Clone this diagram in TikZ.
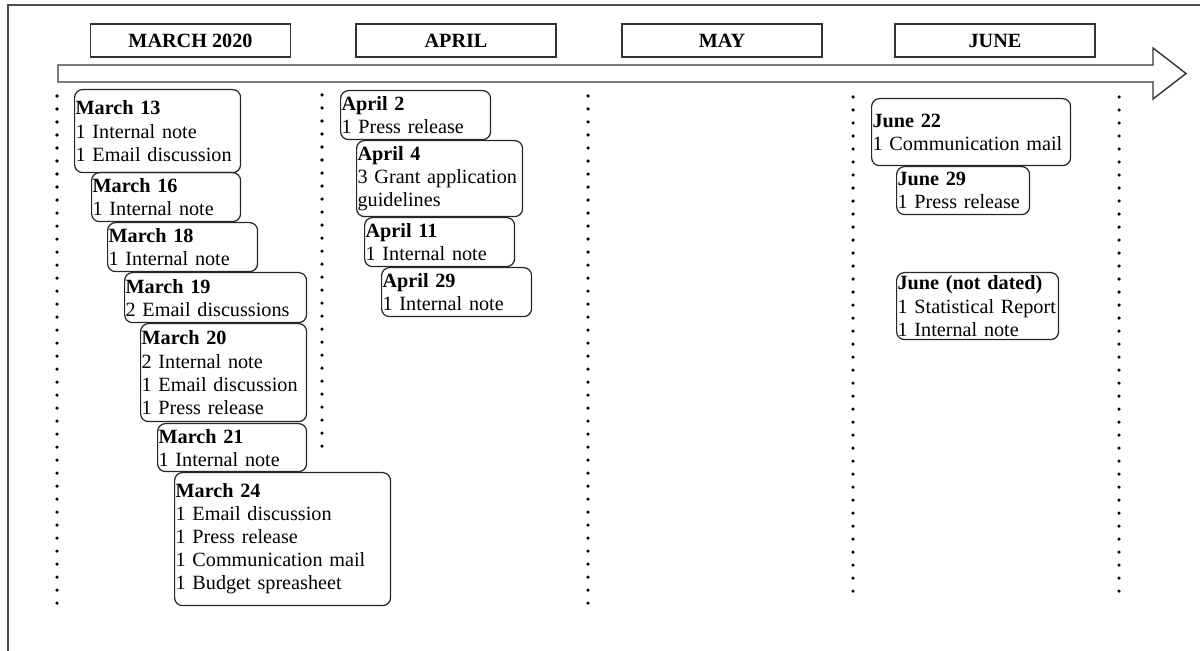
\documentclass[tikz,border=0pt]{standalone}
\usepackage{fontspec}
\setmainfont{Liberation Serif}
\usepackage{xcolor}

\begin{document}
\begin{tikzpicture}[x=0.02cm, y=-0.02cm,
    month/.style={draw=black!80, line width=0.8pt, minimum width=4cm, minimum height=0.66cm, inner sep=0pt, font=\fontsize{11.5}{13}\selectfont\bfseries},
    event/.style={draw=black!85, line width=0.7pt, rounded corners=4.5pt, anchor=north west, align=left, inner xsep=0.02cm, inner ysep=1pt, font=\fontsize{11.5}{13.1}\selectfont},
    dotline/.style={line width=2pt, line cap=round, dash pattern=on 0pt off 7.4pt}]

\useasboundingbox (0,0) rectangle (1200,651);
\draw[black!70, line width=0.6pt] (8,660) -- (8,5) -- (1210,5);

\node[month] (march) at (190.5,40.5) {MARCH 2020};
\node[month] (april) at (456,40.5) {APRIL};
\node[month] (may) at (722,40.5) {MAY};
\node[month] (june) at (995,40.5) {JUNE};

\draw[black!80, line width=0.8pt] (58,65) -- (1153,65) -- (1153,48) -- (1186,73.5) -- (1153,99) -- (1153,82) -- (58,82) -- cycle;

\draw[dotline] (57,96) -- (57,610);
\draw[dotline] (322,95) -- (322,453);
\draw[dotline] (588,96) -- (588,605);
\draw[dotline] (853,97) -- (853,603);
\draw[dotline] (1119,97) -- (1119,603);

\node[event, text width=3.28cm, minimum height=1.66cm] (mar13) at (74,89) {\textbf{March 13}\\1 Internal note\\1 Email discussion};
\node[event, text width=2.94cm, minimum height=0.98cm] (mar16) at (91,172) {\textbf{March 16}\\1 Internal note};
\node[event, text width=2.96cm, minimum height=0.98cm] (mar18) at (107,222) {\textbf{March 18}\\1 Internal note};
\node[event, text width=3.60cm, minimum height=1.00cm] (mar19) at (124,272) {\textbf{March 19}\\2 Email discussions};
\node[event, text width=3.28cm, minimum height=1.96cm] (mar20) at (140,323) {\textbf{March 20}\\2 Internal note\\1 Email discussion\\1 Press release};
\node[event, text width=2.94cm, minimum height=0.96cm] (mar21) at (157,423) {\textbf{March 21}\\1 Internal note};
\node[event, text width=4.28cm, minimum height=2.66cm] (mar24) at (174,472) {\textbf{March 24}\\1 Email discussion\\1 Press release\\1 Communication mail\\1 Budget spreasheet};

\node[event, text width=2.96cm, minimum height=0.98cm] (apr2) at (340,90) {\textbf{April 2}\\1 Press release};
\node[event, text width=3.28cm, minimum height=1.52cm] (apr4) at (356,140) {\textbf{April 4}\\3 Grant application\\guidelines};
\node[event, text width=2.96cm, minimum height=0.98cm] (apr11) at (364,217) {\textbf{April 11}\\1 Internal note};
\node[event, text width=2.96cm, minimum height=0.98cm] (apr29) at (381,267) {\textbf{April 29}\\1 Internal note};

\node[event, text width=3.94cm, minimum height=1.34cm] (jun22) at (871,98) {\textbf{June 22}\\1 Communication mail};
\node[event, text width=2.62cm, minimum height=0.96cm] (jun29) at (896,166) {\textbf{June 29}\\1 Press release};
\node[event, text width=3.20cm, minimum height=1.34cm] (junnd) at (896,272) {\textbf{June (not dated)}\\\mbox{1 Statistical Report}\\1 Internal note};
\end{tikzpicture}
\end{document}
